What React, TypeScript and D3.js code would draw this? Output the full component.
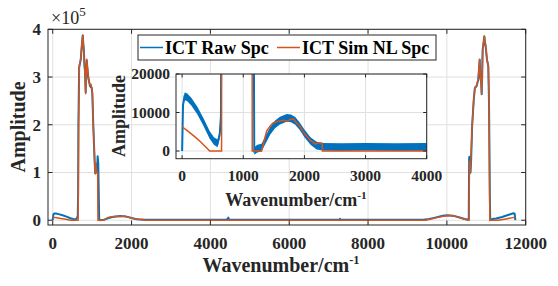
import React, { useEffect, useRef } from "react";
import * as d3 from "d3";

// ICT raw spectrum (blue)
const rawWn = [
  0, 15, 40, 80, 150, 250, 350, 450, 520, 580, 615, 635, 645, 652, 670, 710, 743, 761, 778, 790,
  805, 818, 835, 848, 862, 880, 904, 946, 989, 1005, 1030, 1065, 1080, 1095, 1110, 1125, 1140, 1155,
  1175, 1180, 1230, 1300, 1340, 1400, 1440, 1520, 1600, 1710, 1780, 1850, 1920, 2000, 2100, 2200,
  2300, 2600, 3000, 3500, 4000, 4400, 4440, 4455, 4475, 5000, 6000, 7000, 7270, 7288, 7310, 8000,
  9000, 9400, 9500, 9700, 9900, 10000, 10150, 10300, 10450, 10520, 10555, 10565, 10572, 10585, 10600,
  10615, 10641, 10680, 10710, 10755, 10797, 10832, 10850, 10870, 10883, 10895, 10908, 10930, 10950,
  10965, 10985, 11018, 11051, 11070, 11090, 11100, 11150, 11250, 11400, 11550, 11686, 11720, 11737,
];
const rawAmp = [
  0, 12000, 14200, 14000, 12800, 10500, 7500, 4200, 2600, 2000, 4300, 9000, 60000, 200000, 320000,
  336000, 371000, 387000, 368000, 356000, 325000, 312000, 268000, 300000, 335000, 318000, 298000,
  281000, 277000, 265000, 196000, 120000, 98000, 118000, 100000, 104000, 134000, 120000, 20000, 0,
  600, 900, 2200, 4000, 5200, 6900, 7900, 8600, 8500, 7800, 6500, 4600, 2600, 1400, 1100, 1000, 1100,
  1000, 1050, 1000, 2500, 5400, 1000, 900, 900, 900, 1000, 3000, 900, 900, 900, 1000, 1800, 5500,
  9300, 10400, 9600, 6300, 2500, 1600, 1000, 130000, 133000, 120000, 100000, 125000, 197000, 250000,
  277000, 281000, 295000, 336000, 300000, 288000, 264000, 300000, 357000, 371000, 385000, 374000,
  364000, 336000, 323000, 240000, 50000, 0, 2500, 3800, 6800, 10800, 14600, 13500, 0,
];

// ICT simulated NL spectrum (orange)
const simWn = [
  0, 100, 200, 300, 420, 450, 645, 655, 675, 710, 743, 761, 775, 786, 800, 812, 825, 837, 850, 862,
  880, 904, 925, 946, 970, 989, 1005, 1030, 1065, 1080, 1095, 1110, 1140, 1147, 1300, 1340, 1383,
  1440, 1493, 1560, 1657, 1720, 1768, 1822, 1878, 1932, 1987, 2097, 2180, 2230, 2290, 2295, 9450,
  9600, 9800, 9950, 10050, 10150, 10300, 10420, 10500, 10560, 10575, 10590, 10605, 10625, 10641,
  10680, 10710, 10755, 10797, 10832, 10850, 10870, 10883, 10895, 10908, 10930, 10950, 10965, 10985,
  11018, 11051, 11070, 11090, 11300, 11500, 11737,
];
const simAmp = [
  6300, 5100, 3800, 2400, 500, 0, 0, 200000, 324000, 337000, 372000, 388000, 370000, 358000, 330000,
  317000, 300000, 265000, 300000, 337000, 320000, 299000, 290000, 282000, 285000, 278000, 268000,
  198000, 122000, 98000, 120000, 100000, 100000, 0, 0, 2600, 5200, 6500, 7350, 7700, 8000, 7700,
  8200, 8300, 7200, 6300, 4800, 2800, 1800, 2100, 2050, 0, 0, 2500, 6500, 9000, 10000, 9200, 6500,
  3000, 1000, 0, 123000, 98000, 120000, 160000, 198000, 250000, 278000, 282000, 296000, 337000,
  300000, 290000, 265000, 300000, 358000, 372000, 386000, 375000, 365000, 337000, 324000, 250000, 0,
  0, 2800, 6500,
];

const mainXTicks = [0, 2000, 4000, 6000, 8000, 10000, 12000];
const mainYTicks = [0, 100000, 200000, 300000, 400000];
const insetXTicks = [0, 1000, 2000, 3000, 4000];
const insetYTicks = [0, 10000, 20000];
const seriesNames = ["ICT Raw Spc", "ICT Sim NL Spc"];

const BLUE = "#0072BD";
const ORANGE = "#D95319";
const INK = "#262626";
const GRID = "#e0e0e0";
const FONT = "'Liberation Serif', 'Times New Roman', serif";

const App: React.FC = () => {
  const ref = useRef<SVGSVGElement | null>(null);

  useEffect(() => {
    draw();
  }, []);

  const draw = () => {
    const svg = d3.select(ref.current);
    svg.selectAll("*").remove();

    const raw = rawWn.map((w, i) => [w, rawAmp[i]] as [number, number]);
    const sim = simWn.map((w, i) => [w, simAmp[i]] as [number, number]);

    const drawAxes = (
      g: d3.Selection<SVGGElement, unknown, null, undefined>,
      x: d3.ScaleLinear<number, number>,
      y: d3.ScaleLinear<number, number>,
      xTicks: number[],
      yTicks: number[],
      tickLen: number,
      fontSize: number,
      yFmt: (v: number) => string,
      xLabelY: number,
      yLabelX: number,
      layer: "grid" | "box"
    ) => {
      const [x0, x1] = x.range();
      const [y0, y1] = y.range();
      if (layer === "grid") {
        g.append("rect")
          .attr("x", x0)
          .attr("y", y1)
          .attr("width", x1 - x0)
          .attr("height", y0 - y1)
          .attr("fill", "white");
        xTicks.forEach((t) => {
          g.append("line")
            .attr("x1", x(t)).attr("x2", x(t))
            .attr("y1", y0).attr("y2", y1)
            .attr("stroke", GRID).attr("stroke-width", 1);
        });
        yTicks.forEach((t) => {
          g.append("line")
            .attr("x1", x0).attr("x2", x1)
            .attr("y1", y(t)).attr("y2", y(t))
            .attr("stroke", GRID).attr("stroke-width", 1);
        });
        return;
      }
      g.append("rect")
        .attr("x", x0)
        .attr("y", y1)
        .attr("width", x1 - x0)
        .attr("height", y0 - y1)
        .attr("fill", "none")
        .attr("stroke", INK)
        .attr("stroke-width", 1);
      xTicks.forEach((t) => {
        g.append("line").attr("x1", x(t)).attr("x2", x(t)).attr("y1", y0).attr("y2", y0 - tickLen).attr("stroke", INK);
        g.append("line").attr("x1", x(t)).attr("x2", x(t)).attr("y1", y1).attr("y2", y1 + tickLen).attr("stroke", INK);
        g.append("text")
          .attr("x", x(t))
          .attr("y", xLabelY)
          .attr("text-anchor", "middle")
          .style("font-family", FONT)
          .attr("font-weight", "bold")
          .attr("font-size", fontSize)
          .attr("fill", INK)
          .text(String(t));
      });
      yTicks.forEach((t) => {
        g.append("line").attr("x1", x0).attr("x2", x0 + tickLen).attr("y1", y(t)).attr("y2", y(t)).attr("stroke", INK);
        g.append("line").attr("x1", x1).attr("x2", x1 - tickLen).attr("y1", y(t)).attr("y2", y(t)).attr("stroke", INK);
        g.append("text")
          .attr("x", yLabelX)
          .attr("y", y(t))
          .attr("dy", "0.34em")
          .attr("text-anchor", "end")
          .style("font-family", FONT)
          .attr("font-weight", "bold")
          .attr("font-size", fontSize)
          .attr("fill", INK)
          .text(yFmt(t));
      });
    };

    const addLabel = (
      text: string,
      xPos: number,
      yPos: number,
      size: number,
      rotate: boolean,
      sup?: string
    ) => {
      const t = svg
        .append("text")
        .style("font-family", FONT)
        .attr("font-weight", "bold")
        .attr("font-size", size)
        .attr("fill", INK)
        .attr("text-anchor", "middle")
        .attr("transform", rotate ? `translate(${xPos},${yPos}) rotate(-90)` : `translate(${xPos},${yPos})`);
      t.append("tspan").text(text);
      if (sup) {
        t.append("tspan").attr("dy", -size * 0.38).attr("font-size", size * 0.62).text(sup);
      }
    };

    // ---- main axes ----
    const x = d3.scaleLinear().domain([-120, 12000]).range([48, 525.7]);
    const y = d3.scaleLinear().domain([-10000, 400000]).range([225, 29.3]);
    drawAxes(svg.append("g"), x, y, mainXTicks, mainYTicks, 4.5, 17, (v) => String(v / 100000), 249, 41, "grid");

    svg.append("clipPath").attr("id", "clipMain").append("rect")
      .attr("x", 48).attr("y", 29.3).attr("width", 525.7 - 48).attr("height", 225 - 29.3);
    const line = d3.line<[number, number]>().x((d) => x(d[0])).y((d) => y(d[1]));
    const gLines = svg.append("g").attr("clip-path", "url(#clipMain)");
    gLines.append("path").datum(raw).attr("d", line).attr("fill", "none").attr("stroke", BLUE)
      .attr("stroke-width", 2).attr("stroke-linejoin", "round");
    gLines.append("path").datum(sim).attr("d", line).attr("fill", "none").attr("stroke", ORANGE)
      .attr("stroke-width", 1.5).attr("stroke-linejoin", "round");

    drawAxes(svg.append("g"), x, y, mainXTicks, mainYTicks, 4.5, 17, (v) => String(v / 100000), 249, 41, "box");

    // ×10^5 exponent
    const exp = svg.append("text").attr("x", 51).attr("y", 24).style("font-family", FONT)
      .attr("font-size", 18).attr("fill", INK);
    exp.append("tspan").text("×10");
    exp.append("tspan").attr("dy", -8).attr("font-size", 13).text("5");

    addLabel("Amplitude", 25, 127, 20, true);
    addLabel("Wavenumber/cm", 281, 272, 20, false, "-1");

    // ---- legend ----
    const lg = svg.append("g");
    lg.append("rect").attr("x", 138).attr("y", 35).attr("width", 298).attr("height", 25)
      .attr("fill", "white").attr("stroke", INK).attr("stroke-width", 1);
    const legendItems = [
      { name: seriesNames[0], color: BLUE, x0: 140, x1: 163, tx: 165 },
      { name: seriesNames[1], color: ORANGE, x0: 277, x1: 300, tx: 302 },
    ];
    legendItems.forEach((it) => {
      lg.append("line").attr("x1", it.x0).attr("x2", it.x1).attr("y1", 47.5).attr("y2", 47.5)
        .attr("stroke", it.color).attr("stroke-width", 1.5);
      lg.append("text").attr("x", it.tx).attr("y", 53.5).style("font-family", FONT).attr("font-weight", "bold")
        .attr("font-size", 18).attr("fill", "black").text(it.name);
    });

    // ---- inset axes ----
    const xi = d3.scaleLinear().domain([-100, 4000]).range([176, 426.7]);
    const yi = d3.scaleLinear().domain([-2000, 20000]).range([158.7, 74]);
    drawAxes(svg.append("g"), xi, yi, insetXTicks, insetYTicks, 3.5, 15.5, (v) => String(v), 181, 170, "grid");
    svg.append("clipPath").attr("id", "clipInset").append("rect")
      .attr("x", 176).attr("y", 74).attr("width", 426.7 - 176).attr("height", 158.7 - 74);
    const gi = svg.append("g").attr("clip-path", "url(#clipInset)");
    const NOISE = 1000;
    const band = d3.area<[number, number]>()
      .x((d) => xi(d[0]))
      .y0((d) => yi(d[1] - NOISE))
      .y1((d) => yi(d[1] + NOISE));
    const rawIn = raw.filter((d) => d[0] <= 4500);
    const simIn = sim.filter((d) => d[0] <= 9500);
    const lineI = d3.line<[number, number]>().x((d) => xi(d[0])).y((d) => yi(d[1]));
    gi.append("path").datum(rawIn).attr("d", band).attr("fill", BLUE);
    gi.append("path").datum(rawIn).attr("d", lineI).attr("fill", "none").attr("stroke", BLUE).attr("stroke-width", 2);
    gi.append("path").datum(simIn).attr("d", lineI).attr("fill", "none").attr("stroke", ORANGE).attr("stroke-width", 1.5);
    drawAxes(svg.append("g"), xi, yi, insetXTicks, insetYTicks, 3.5, 15.5, (v) => String(v), 181, 170, "box");

    addLabel("Amplitude", 125, 116, 18, true);
    addLabel("Wavenumber/cm", 296, 206, 18, false, "-1");
  };

  return (
    <svg
      ref={ref}
      width={558}
      height={286}
      style={{ position: "absolute", left: 0, top: 0, background: "white", fontFamily: FONT }}
    ></svg>
  );
};

export default App;
